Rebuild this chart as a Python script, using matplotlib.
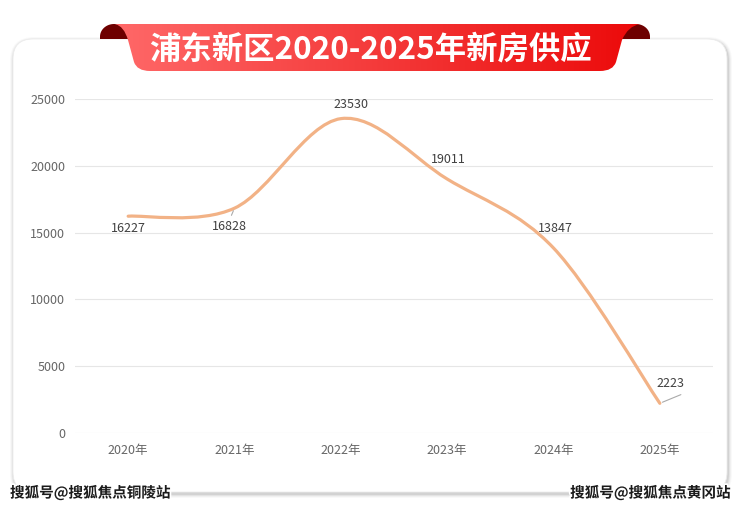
import numpy as np
import matplotlib
matplotlib.use("Agg")
import matplotlib.pyplot as plt
from matplotlib.patches import FancyBboxPatch, PathPatch, Polygon
from matplotlib.path import Path
from matplotlib.colors import LinearSegmentedColormap
import matplotlib.patheffects as pe

plt.rcParams['font.family'] = ['Noto Sans CJK SC', 'DejaVu Sans']

title = "浦东新区2020-2025年新房供应"
categories = ["2020年", "2021年", "2022年", "2023年", "2024年", "2025年"]
values = [16227, 16828, 23530, 19011, 13847, 2223]
yticks = [0, 5000, 10000, 15000, 20000, 25000]
watermark_left = "搜狐号@搜狐焦点铜陵站"
watermark_right = "搜狐号@搜狐焦点黄冈站"

W, H = 740, 509
fig = plt.figure(figsize=(W / 100, H / 100), dpi=100)
fig.patch.set_facecolor("white")

bg = fig.add_axes([0, 0, 1, 1])
bg.set_xlim(0, W)
bg.set_ylim(H, 0)
bg.axis("off")

# soft card shadow
for i, a in enumerate([0.025, 0.035, 0.05, 0.07]):
    d = 4 - i
    sh = FancyBboxPatch((13 - d + 1, 39 - d + 2), 714 + 2 * d, 453 + 2 * d,
                        boxstyle="round,pad=0,rounding_size=%d" % (20 + d),
                        fc=(0, 0, 0, a), ec="none")
    bg.add_patch(sh)
card = FancyBboxPatch((13, 39), 714, 453, boxstyle="round,pad=0,rounding_size=20",
                      fc="white", ec="#ececec", lw=0.6)
bg.add_patch(card)

def fold(x0, x1, y0, y1):
    r = (x1 - x0) / 2
    t = np.linspace(np.pi, 0, 30)
    cx = (x0 + x1) / 2
    xs = cx + r * np.cos(t)
    ys = y0 + (r - r * np.sin(t)) * 0.9
    pts = list(zip(xs, ys)) + [(x1, y1), (x0, y1)]
    return Polygon(pts, closed=True, fc="#6e0000", ec="none")

bg.add_patch(fold(100, 128, 24, 39))
bg.add_patch(fold(622, 650, 24, 39))

verts = [(115, 24), (640, 24),
         (628, 26), (622, 40),
         (616, 62), (613, 71), (600, 71),
         (150, 71),
         (137, 71), (134, 62),
         (128, 40), (124, 26), (115, 24)]
codes = [Path.MOVETO, Path.LINETO,
         Path.CURVE3, Path.CURVE3,
         Path.LINETO, Path.CURVE3, Path.CURVE3,
         Path.LINETO,
         Path.CURVE3, Path.CURVE3,
         Path.LINETO, Path.CURVE3, Path.CURVE3]
rpath = Path(verts, codes)
rpatch = PathPatch(rpath, fc="none", ec="none")
bg.add_patch(rpatch)
grad = np.linspace(0, 1, 256).reshape(1, -1)
cmap = LinearSegmentedColormap.from_list("rib", ["#ff6868", "#f43a3a", "#ec0a0a"])
im = bg.imshow(grad, extent=[115, 640, 71, 24], cmap=cmap, aspect="auto", zorder=2)
im.set_clip_path(rpatch)
bg.text(370, 49, title, color="white", fontsize=22.6, fontweight="bold",
        ha="center", va="center", zorder=3)

stroke = [pe.withStroke(linewidth=2.5, foreground="white")]
bg.text(10, 493, watermark_left, fontsize=10.5, fontweight="bold", color="#1a1a1a",
        ha="left", va="center", path_effects=stroke, zorder=5)
bg.text(731, 493, watermark_right, fontsize=10.5, fontweight="bold", color="#1a1a1a",
        ha="right", va="center", path_effects=stroke, zorder=5)

ax = fig.add_axes([75 / W, (H - 433) / H, (713 - 75) / W, (433 - 99) / H])
ax.set_facecolor("none")
ax.set_xlim(-0.5, len(categories) - 0.5)
ax.set_ylim(0, 25000)
ax.set_yticks(yticks)
ax.set_yticklabels([str(v) for v in yticks])
ax.set_xticks(range(len(categories)))
ax.set_xticklabels(categories)
for s in ax.spines.values():
    s.set_visible(False)
ax.tick_params(axis="both", length=0, colors="#666666", labelsize=9)
ax.tick_params(axis="y", pad=7)
ax.tick_params(axis="x", pad=8)
ax.grid(axis="y", color="#e6e6e6", lw=0.8)
ax.set_axisbelow(True)

# Catmull-Rom style smooth bezier in display space
xs = np.arange(len(values), dtype=float)
disp = ax.transData.transform(np.column_stack([xs, values]))
n = len(disp)
tangents = []
for i in range(n):
    prev = disp[i - 1] if i > 0 else disp[i]
    nxt = disp[i + 1] if i < n - 1 else disp[i]
    tangents.append((nxt - prev) / 6.0)
pverts = [disp[0]]
pcodes = [Path.MOVETO]
for i in range(n - 1):
    pverts += [disp[i] + tangents[i], disp[i + 1] - tangents[i + 1], disp[i + 1]]
    pcodes += [Path.CURVE4] * 3
pverts = ax.transData.inverted().transform(np.array(pverts))
ax.add_patch(PathPatch(Path(pverts, pcodes), fc="none", ec="#f2b286", lw=2.3,
                       capstyle="round", zorder=3))

label_offsets = [(0, -9), (-4, -13), (7, 10), (1, 14), (1, 14), (8, 14)]
for i, (x, v) in enumerate(zip(xs, values)):
    dx, dy = label_offsets[i]
    ax.annotate(str(v), (x, v), xytext=(dx, dy), textcoords="offset points",
                ha="center", va="center", fontsize=9, color="#404040", zorder=4)
ax.annotate("", (xs[1], values[1]), xytext=(-3, -7), textcoords="offset points",
            arrowprops=dict(arrowstyle="-", color="#aaaaaa", lw=0.8))
ax.annotate("", (xs[5], values[5]), xytext=(17, 7), textcoords="offset points",
            arrowprops=dict(arrowstyle="-", color="#aaaaaa", lw=0.8))

fig.savefig("out.png", dpi=100, facecolor="white")
